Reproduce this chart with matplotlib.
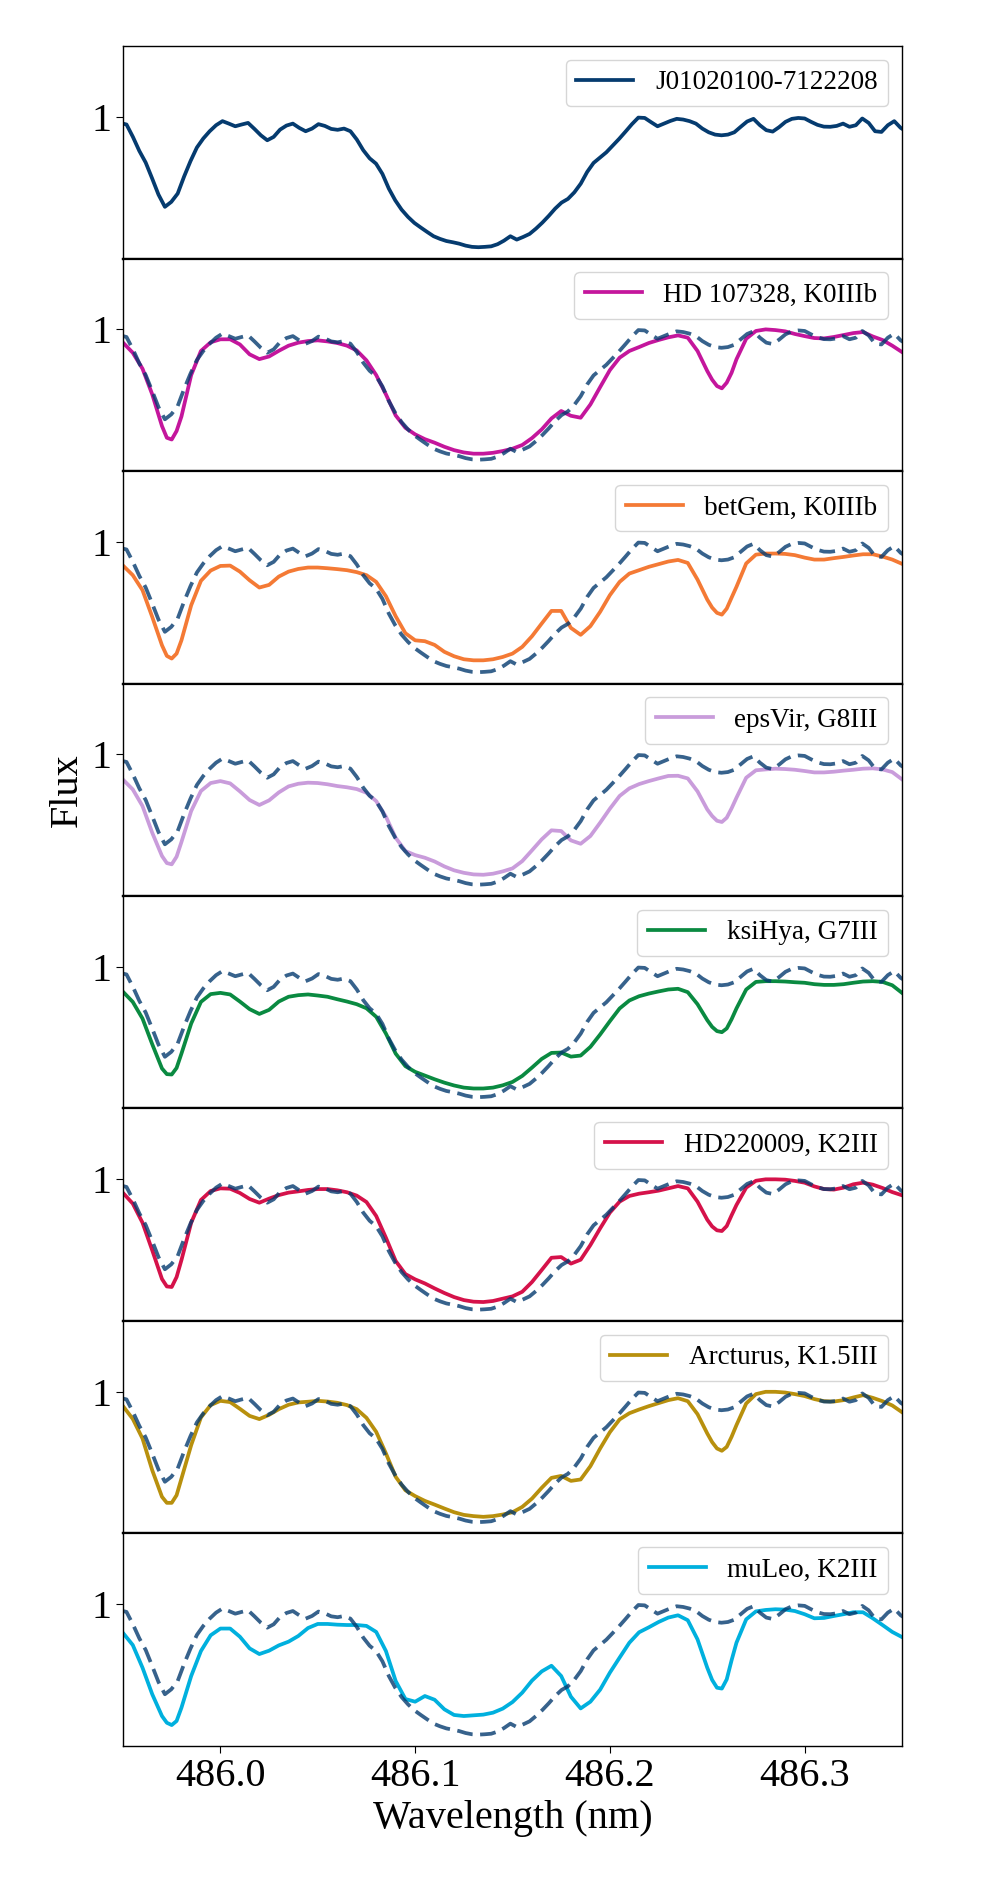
import numpy as np
import matplotlib
matplotlib.use('Agg')
import matplotlib.pyplot as plt

plt.rcParams['font.family'] = ['Liberation Serif', 'DejaVu Serif']

# target spectrum (J01020100-7122208), sampled more coarsely
ref_wave = np.linspace(485.9485, 486.3526, 124)
ref_flux = [
    0.966, 0.957, 0.887, 0.808, 0.742, 0.653, 0.561, 0.492, 0.520, 0.567,
    0.663, 0.750, 0.827, 0.878, 0.919, 0.953, 0.976, 0.962, 0.947, 0.957,
    0.966, 0.932, 0.896, 0.868, 0.887, 0.928, 0.951, 0.962, 0.938, 0.919,
    0.934, 0.959, 0.949, 0.932, 0.927, 0.934, 0.919, 0.872, 0.812, 0.766,
    0.736, 0.678, 0.595, 0.529, 0.476, 0.435, 0.401, 0.375, 0.350, 0.326,
    0.311, 0.299, 0.292, 0.284, 0.273, 0.266, 0.264, 0.266, 0.269, 0.281,
    0.301, 0.326, 0.307, 0.322, 0.339, 0.369, 0.403, 0.441, 0.482, 0.516,
    0.537, 0.574, 0.623, 0.689, 0.740, 0.770, 0.800, 0.838, 0.876, 0.917,
    0.959, 0.996, 0.994, 0.970, 0.947, 0.962, 0.977, 0.989, 0.985, 0.976,
    0.962, 0.934, 0.913, 0.900, 0.896, 0.900, 0.913, 0.944, 0.974, 0.989,
    0.953, 0.925, 0.917, 0.942, 0.972, 0.989, 0.994, 0.991, 0.972, 0.955,
    0.945, 0.944, 0.949, 0.962, 0.944, 0.953, 0.991, 0.966, 0.919, 0.915,
    0.953, 0.976, 0.938, 0.915,
]
ref_label = 'J01020100-7122208'

# comparison (template) spectra on a common grid
extra_wave = [485.9725, 485.9775, 486.2525, 486.2575, 486.2625]
wave = np.sort(np.concatenate([np.linspace(485.95, 486.35, 81), extra_wave]))

hd107328 = [
    0.925, 0.868, 0.778, 0.633, 0.454, 0.388, 0.378, 0.426,
    0.508, 0.742, 0.878, 0.927, 0.944, 0.944, 0.915, 0.859, 0.832, 0.847,
    0.879, 0.908, 0.925, 0.934, 0.938, 0.932, 0.923, 0.908, 0.881, 0.825,
    0.742, 0.633, 0.514, 0.444, 0.407, 0.380, 0.360, 0.337, 0.318, 0.305,
    0.298, 0.298, 0.303, 0.313, 0.326, 0.347, 0.386, 0.435, 0.497, 0.539,
    0.512, 0.501, 0.576, 0.674, 0.770, 0.840, 0.878, 0.900, 0.923, 0.940,
    0.955, 0.966, 0.953, 0.878, 0.765,
    0.716, 0.680, 0.667, 0.699, 0.755,
    0.831, 0.947, 0.991, 1.000, 0.996, 0.989, 0.974, 0.962, 0.951, 0.949,
    0.957, 0.968, 0.979, 0.985, 0.960, 0.940, 0.908, 0.872,
]
betgem = [
    0.866, 0.812, 0.727, 0.576, 0.416, 0.356, 0.341, 0.369,
    0.444, 0.642, 0.780, 0.838, 0.864, 0.866, 0.832, 0.783, 0.742, 0.757,
    0.804, 0.832, 0.847, 0.855, 0.855, 0.851, 0.846, 0.840, 0.829, 0.812,
    0.774, 0.693, 0.580, 0.484, 0.444, 0.439, 0.418, 0.379, 0.354, 0.337,
    0.331, 0.331, 0.337, 0.350, 0.369, 0.407, 0.467, 0.539, 0.610, 0.610,
    0.514, 0.475, 0.524, 0.605, 0.699, 0.774, 0.821, 0.840, 0.859, 0.874,
    0.889, 0.898, 0.881, 0.787, 0.674,
    0.629, 0.599, 0.589, 0.623, 0.685,
    0.746, 0.878, 0.928, 0.934, 0.934, 0.932, 0.925, 0.911, 0.900, 0.900,
    0.908, 0.915, 0.923, 0.930, 0.930, 0.917, 0.900, 0.876,
]
epsvir = [
    0.857, 0.802, 0.708, 0.557, 0.426, 0.386, 0.379, 0.422,
    0.505, 0.680, 0.793, 0.838, 0.849, 0.836, 0.791, 0.742, 0.714, 0.740,
    0.785, 0.819, 0.834, 0.840, 0.838, 0.831, 0.821, 0.814, 0.804, 0.783,
    0.736, 0.648, 0.529, 0.454, 0.431, 0.416, 0.395, 0.367, 0.345, 0.331,
    0.322, 0.320, 0.326, 0.339, 0.356, 0.397, 0.458, 0.520, 0.571, 0.567,
    0.514, 0.495, 0.539, 0.614, 0.693, 0.765, 0.808, 0.832, 0.849, 0.864,
    0.878, 0.879, 0.864, 0.791, 0.689,
    0.652, 0.625, 0.618, 0.642, 0.695,
    0.755, 0.868, 0.910, 0.915, 0.919, 0.917, 0.913, 0.906, 0.898, 0.898,
    0.902, 0.908, 0.913, 0.919, 0.921, 0.915, 0.900, 0.859,
]
ksihya = [
    0.859, 0.802, 0.708, 0.563, 0.426, 0.394, 0.392, 0.429,
    0.510, 0.680, 0.802, 0.846, 0.853, 0.844, 0.804, 0.761, 0.734, 0.757,
    0.804, 0.831, 0.840, 0.844, 0.838, 0.831, 0.817, 0.804, 0.789, 0.766,
    0.718, 0.623, 0.510, 0.439, 0.407, 0.386, 0.365, 0.346, 0.330, 0.318,
    0.313, 0.313, 0.318, 0.331, 0.350, 0.384, 0.431, 0.480, 0.514, 0.516,
    0.493, 0.499, 0.548, 0.618, 0.693, 0.765, 0.810, 0.834, 0.849, 0.861,
    0.872, 0.876, 0.857, 0.789, 0.699,
    0.661, 0.637, 0.631, 0.652, 0.704,
    0.765, 0.872, 0.915, 0.919, 0.919, 0.917, 0.913, 0.910, 0.902, 0.898,
    0.898, 0.902, 0.910, 0.917, 0.919, 0.915, 0.896, 0.853,
]
hd220009 = [
    0.923, 0.863, 0.755, 0.599, 0.437, 0.395, 0.392, 0.448,
    0.544, 0.755, 0.883, 0.934, 0.949, 0.947, 0.923, 0.889, 0.868, 0.891,
    0.911, 0.925, 0.932, 0.940, 0.945, 0.945, 0.938, 0.927, 0.908, 0.872,
    0.793, 0.670, 0.539, 0.465, 0.435, 0.412, 0.384, 0.358, 0.335, 0.318,
    0.309, 0.307, 0.313, 0.326, 0.339, 0.365, 0.420, 0.488, 0.557, 0.561,
    0.524, 0.546, 0.629, 0.723, 0.812, 0.874, 0.906, 0.919, 0.927, 0.936,
    0.949, 0.962, 0.949, 0.874, 0.772,
    0.734, 0.712, 0.708, 0.736, 0.797,
    0.855, 0.953, 0.992, 1.000, 1.000, 0.998, 0.991, 0.981, 0.960, 0.945,
    0.942, 0.953, 0.972, 0.981, 0.970, 0.951, 0.928, 0.910,
]
arcturus = [
    0.919, 0.847, 0.736, 0.557, 0.407, 0.373, 0.373, 0.416,
    0.510, 0.699, 0.855, 0.925, 0.949, 0.942, 0.904, 0.864, 0.846, 0.870,
    0.902, 0.927, 0.940, 0.944, 0.949, 0.945, 0.938, 0.925, 0.902, 0.853,
    0.774, 0.652, 0.520, 0.444, 0.411, 0.384, 0.363, 0.341, 0.320, 0.305,
    0.298, 0.294, 0.298, 0.307, 0.320, 0.350, 0.397, 0.458, 0.514, 0.525,
    0.497, 0.505, 0.580, 0.680, 0.772, 0.844, 0.879, 0.900, 0.919, 0.936,
    0.953, 0.964, 0.947, 0.874, 0.765,
    0.716, 0.680, 0.667, 0.689, 0.746,
    0.812, 0.934, 0.987, 1.000, 1.000, 0.996, 0.987, 0.976, 0.959, 0.947,
    0.945, 0.953, 0.968, 0.981, 0.966, 0.947, 0.923, 0.885,
]
muleo = [
    0.838, 0.770, 0.642, 0.492, 0.369, 0.331, 0.318, 0.341,
    0.416, 0.595, 0.736, 0.825, 0.863, 0.863, 0.817, 0.751, 0.719, 0.738,
    0.768, 0.789, 0.821, 0.866, 0.889, 0.889, 0.885, 0.883, 0.883, 0.878,
    0.844, 0.736, 0.567, 0.465, 0.450, 0.482, 0.461, 0.407, 0.375, 0.369,
    0.373, 0.377, 0.388, 0.411, 0.448, 0.501, 0.569, 0.621, 0.653, 0.595,
    0.478, 0.412, 0.450, 0.518, 0.614, 0.699, 0.783, 0.842, 0.870, 0.900,
    0.925, 0.938, 0.910, 0.802, 0.642,
    0.573, 0.529, 0.524, 0.576, 0.684,
    0.783, 0.915, 0.960, 0.968, 0.972, 0.970, 0.962, 0.944, 0.921, 0.923,
    0.934, 0.944, 0.955, 0.955, 0.921, 0.883, 0.844, 0.815,
]

labels = ['HD 107328, K0IIIb', 'betGem, K0IIIb', 'epsVir, G8III', 'ksiHya, G7III',
          'HD220009, K2III', 'Arcturus, K1.5III', 'muLeo, K2III']
colors = ['#c4169c', '#f47a35', '#c99cdb', '#0a8a41', '#d5124a', '#b8900d', '#00b0de']
templates = [hd107328, betgem, epsvir, ksihya, hd220009, arcturus, muleo]
ref_color = '#053b6f'

xticks = [486.0, 486.1, 486.2, 486.3]


def main():
    fig, axes = plt.subplots(8, 1, sharex=True, figsize=(9.97, 18.8), dpi=100)
    fig.subplots_adjust(left=0.1234, right=0.9047, top=0.9755, bottom=0.0713, hspace=0)

    axes[0].plot(ref_wave, ref_flux, color=ref_color, lw=2.7, label=ref_label)
    for ax, flux, lab, col in zip(axes[1:], templates, labels, colors):
        ax.plot(wave, flux, color=col, lw=2.7, label=lab)
        ax.plot(ref_wave, ref_flux, color=ref_color, lw=2.7, alpha=0.8,
                ls=(0, (4.2, 2.0)))

    for i, ax in enumerate(axes):
        ax.set_xlim(485.95, 486.35)
        ax.set_ylim(0.2, 1.4)
        ax.set_yticks([1])
        ax.set_yticklabels(['1'])
        ax.tick_params(axis='y', labelsize=29, length=5)
        ax.legend(loc='upper right', fontsize=19.5, handlelength=2.1)
        for sp in ax.spines.values():
            sp.set_linewidth(1.0)
        if i > 0:
            ax.spines['top'].set_linewidth(1.6)
        if i < len(axes) - 1:
            ax.spines['bottom'].set_linewidth(1.6)
            ax.tick_params(axis='x', bottom=False)

    axes[-1].set_xticks(xticks)
    axes[-1].set_xticklabels([f'{t:.1f}' for t in xticks])
    axes[-1].tick_params(axis='x', labelsize=29, length=5)
    axes[-1].set_xlabel('Wavelength (nm)', fontsize=29)
    axes[3].set_ylabel('Flux', fontsize=29)

    fig.savefig('out.png', dpi=100)


if __name__ == '__main__':
    main()
